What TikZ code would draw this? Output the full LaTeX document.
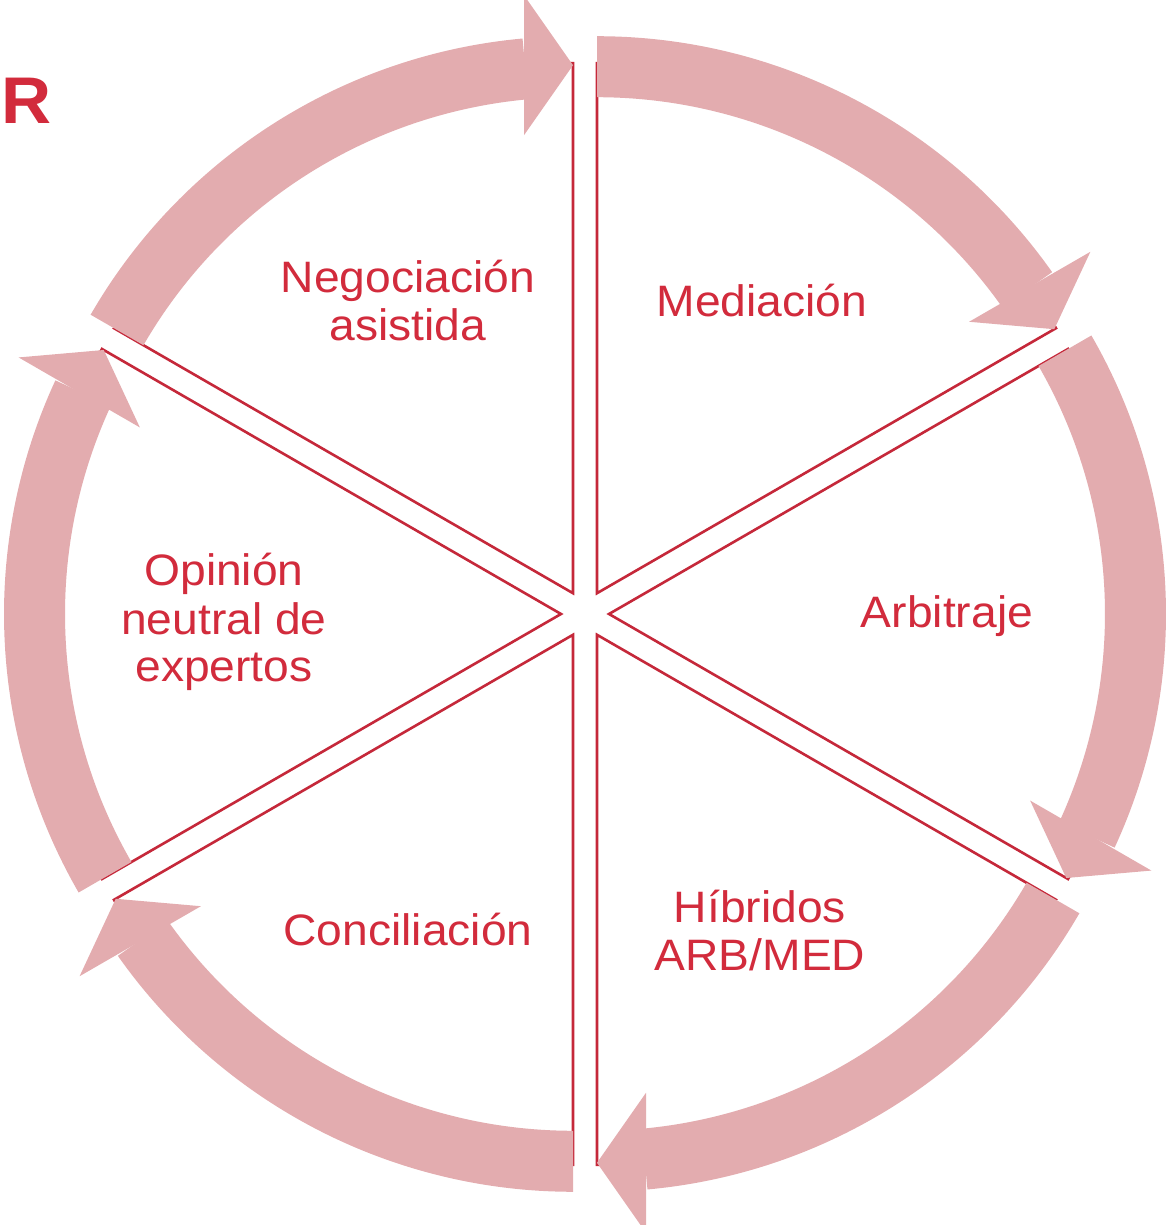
\documentclass[tikz,border=0pt]{standalone}
\usepackage{fontspec}
\setmainfont{Liberation Sans}[FakeStretch=1.05]
\usetikzlibrary{calc}
\definecolor{arrowpink}{RGB}{227,172,175}
\definecolor{edgered}{RGB}{197,40,58}
\definecolor{textred}{RGB}{210,43,60}
\begin{document}
\begin{tikzpicture}[x=1pt,y=1pt,
  wedge/.style={draw=edgered, line width=2.6pt, fill=white, line join=miter},
  cyclearrow/.style={fill=arrowpink},
  cycletext/.style={text=textred, font=\fontsize{44}{48}\selectfont, align=center, anchor=base, inner sep=0pt}]
\useasboundingbox (-585,-611) rectangle (580,614);
% segments
\foreach \m/\n in {60/med,0/arb,-60/hib,-120/con,180/opi,120/neg}{
  \pgfmathsetmacro{\s}{\m+30}
  \pgfmathsetmacro{\e}{\m-30}
  \coordinate (A-\n) at (\m:24pt);
  \draw[wedge] (A-\n) -- ($(A-\n)+(\s:530pt)$) arc[start angle=\s, end angle=\e, radius=530pt] -- cycle;
}
% circular arrows
\foreach \m/\n in {60/med,0/arb,-60/hib,-120/con,180/opi,120/neg}{
  \pgfmathsetmacro{\s}{\m+30}
  \pgfmathsetmacro{\e}{\m-30}
  \pgfmathsetmacro{\ee}{\m-30+5.2}
  \pgfmathsetmacro{\eb}{\m+60}
  \pgfmathsetmacro{\eo}{\m+150}
  \fill[cyclearrow] ($(A-\n)+(\s:557pt)$) arc[start angle=\s, end angle=\ee, radius=557pt]
     -- ($(A-\n)+(\ee:496pt)$) arc[start angle=\ee, end angle=\s, radius=496pt] -- cycle;
  \coordinate (T-\n) at ($(A-\n)+(\e:528pt)$);
  \coordinate (B-\n) at ($(T-\n)+(\eb:49pt)$);
  \fill[cyclearrow] (T-\n) -- ($(B-\n)+(\e:70pt)$) -- ($(B-\n)+(\eo:70pt)$) -- cycle;
}
% labels (base = baseline of the last line)
\node[cycletext] (neg) at (-177,273) {Negociación\\asistida};
\node[cycletext] (med) at (177,297) {Mediación};
\node[cycletext] (arb) at (362,-14) {Arbitraje};
\node[cycletext] (hib) at (175,-356) {Híbridos\\ARB/MED};
\node[cycletext] (con) at (-177,-331) {Conciliación};
\node[cycletext] (opi) at (-361,-68) {Opinión\\neutral de\\expertos};
\node[text=textred, font=\bfseries\fontsize{66}{70}\selectfont, anchor=base, inner sep=0pt] (r) at (-558,490) {R};
\end{tikzpicture}
\end{document}
